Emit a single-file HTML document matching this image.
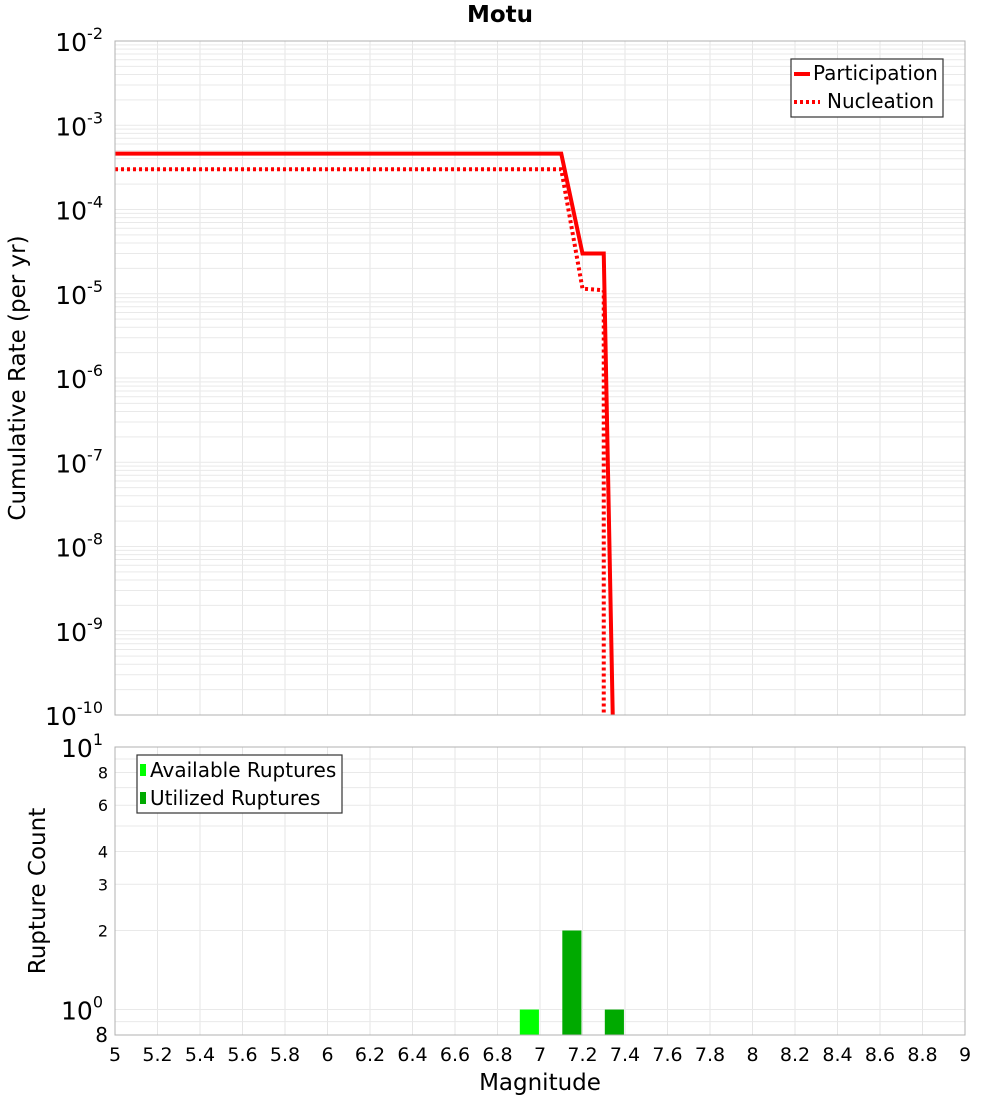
<!DOCTYPE html>
<html><head><meta charset="utf-8"><style>
body{margin:0;background:#fff;}
svg{display:block;font-family:"DejaVu Sans","Liberation Sans",sans-serif;}
</style></head><body>
<svg id="chart" width="1000" height="1100" xmlns="http://www.w3.org/2000/svg">
<text x="500" y="22" text-anchor="middle" font-size="23" font-weight="bold">Motu</text>
<g id="topg"></g>
<g id="botg"></g>
<text transform="translate(25,378) rotate(-90)" text-anchor="middle" font-size="23">Cumulative Rate (per yr)</text>
<text transform="translate(45,891) rotate(-90)" text-anchor="middle" font-size="23">Rupture Count</text>
<text x="540" y="1090" text-anchor="middle" font-size="23">Magnitude</text>
<g id="leg1">
<rect x="791" y="59" width="152" height="58" fill="#fff" stroke="#333" stroke-width="1.2"/>
<line x1="794" y1="74" x2="810" y2="74" stroke="red" stroke-width="4"/>
<text x="813" y="80" font-size="20">Participation</text>
<line x1="794" y1="102" x2="820" y2="102" stroke="red" stroke-width="4" stroke-dasharray="3,3"/>
<text x="827" y="108" font-size="20">Nucleation</text>
</g>
<g id="leg2">
<rect x="137" y="755" width="205" height="58" fill="#fff" stroke="#333" stroke-width="1.2"/>
<rect x="140" y="764" width="6" height="12" fill="#00ff00"/>
<text x="150" y="777" font-size="20">Available Ruptures</text>
<rect x="140" y="792" width="6" height="12" fill="#00aa00"/>
<text x="150" y="805" font-size="20">Utilized Ruptures</text>
</g>
</svg>
<script>
const partMags=[5,7.1,7.2,7.3,7.35];
const partRates=[4.6e-4,4.6e-4,3.0e-5,3.0e-5,1e-11];
const nuclMags=[5,7.1,7.2,7.3,7.3];
const nuclRates=[3.0e-4,3.0e-4,1.15e-5,1.1e-5,1e-11];
const availMags=[6.95];
const availCounts=[1];
const utilMags=[7.15,7.35];
const utilCounts=[2,1];
const xTicks=["5","5.2","5.4","5.6","5.8","6","6.2","6.4","6.6","6.8","7","7.2","7.4","7.6","7.8","8","8.2","8.4","8.6","8.8","9"];
const topExps=[-2,-3,-4,-5,-6,-7,-8,-9,-10];
const botMinor=[8,6,4,3,2];

const NS="http://www.w3.org/2000/svg";
const PL=115,PR=965,T1=41,B1=715,T2=747,B2=1035;
const X=m=>PL+(m-5)/4*(PR-PL);
const Y1=v=>T1+(-2-Math.log10(v))/8*(B1-T1);
const lo=Math.log10(0.8);
const Y2=v=>B2-(Math.log10(v)-lo)/(1-lo)*(B2-T2);
function mk(tag,attrs,parent){const e=document.createElementNS(NS,tag);for(const k in attrs)e.setAttribute(k,attrs[k]);parent.appendChild(e);return e;}
const svgEl=document.getElementById('chart');
const topG=document.getElementById('topg'),botG=document.getElementById('botg');
mk('rect',{x:PL,y:T1,width:PR-PL,height:B1-T1,fill:'#fff'},topG);
mk('rect',{x:PL,y:T2,width:PR-PL,height:B2-T2,fill:'#fff'},botG);
xTicks.forEach(t=>{const x=X(+t);
 mk('line',{x1:x,x2:x,y1:T1,y2:B1,stroke:'#e6e6e6'},topG);
 mk('line',{x1:x,x2:x,y1:T2,y2:B2,stroke:'#e6e6e6'},botG);
 const tx=mk('text',{x:x,y:1061,'text-anchor':'middle','font-size':19},svgEl);
 tx.textContent=t;
 
 
});
for(let e=-10;e<-2;e++)for(let k=1;k<10;k++){const y=Y1(k*Math.pow(10,e));mk('line',{x1:PL,x2:PR,y1:y,y2:y,stroke:'#e9e9e9'},topG);}
for(let k=1;k<=10;k++){const y=Y2(k);mk('line',{x1:PL,x2:PR,y1:y,y2:y,stroke:'#e9e9e9'},botG);}
mk('line',{x1:PL,x2:PR,y1:Y2(0.9),y2:Y2(0.9),stroke:'#e9e9e9'},botG);
topExps.forEach(e=>{const y=Y1(Math.pow(10,e));
 const t=mk('text',{x:103,y:y+10,'text-anchor':'end','font-size':25},topG);
 
 
 t.innerHTML='10<tspan dy="-12" font-size="16">'+e+'</tspan>';
});
[[10,'10','1'],[1,'10','0']].forEach(([v,b,s])=>{const t=mk('text',{x:103,y:Y2(v)+10,'text-anchor':'end','font-size':25},botG);
 
 
 t.innerHTML=b+'<tspan dy="-12" font-size="16">'+s+'</tspan>';});
botMinor.forEach(v=>{const t=mk('text',{x:108,y:Y2(v)+6,'text-anchor':'end','font-size':16},botG);t.textContent=v;
 
 });
const t8=mk('text',{x:108,y:B2+7,'text-anchor':'end','font-size':20},botG);t8.textContent='8';


const defs=mk('defs',{},svgEl);
const cp=mk('clipPath',{id:'c1'},defs);mk('rect',{x:PL,y:T1,width:PR-PL,height:B1-T1},cp);
const pts=(ms,vs)=>ms.map((m,i)=>X(m)+','+Y1(vs[i])).join(' ');
const nl=mk('polyline',{points:pts(nuclMags,nuclRates),fill:'none',stroke:'red','stroke-width':4,'stroke-dasharray':'3,3','clip-path':'url(#c1)'},topG);


const pl=mk('polyline',{points:pts(partMags,partRates),fill:'none',stroke:'red','stroke-width':4,'clip-path':'url(#c1)'},topG);


const bw=(X(5.1)-X(5))*0.9;
availMags.forEach((m,i)=>{const r=mk('rect',{x:X(m)-bw/2,y:Y2(availCounts[i]),width:bw,height:B2-Y2(availCounts[i]),fill:'#00ff00'},botG);
 
 });
utilMags.forEach((m,i)=>{const r=mk('rect',{x:X(m)-bw/2,y:Y2(utilCounts[i]),width:bw,height:B2-Y2(utilCounts[i]),fill:'#00aa00'},botG);
 
 });
mk('rect',{x:PL,y:T1,width:PR-PL,height:B1-T1,fill:'none',stroke:'#b0b0b0'},topG);
mk('rect',{x:PL,y:T2,width:PR-PL,height:B2-T2,fill:'none',stroke:'#b0b0b0'},botG);
svgEl.appendChild(document.getElementById('leg1'));
svgEl.appendChild(document.getElementById('leg2'));
</script>
</body></html>
